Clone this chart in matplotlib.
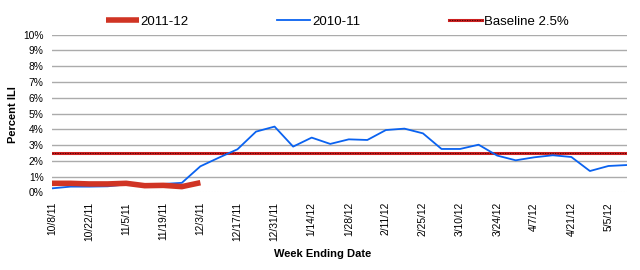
import matplotlib
matplotlib.use('Agg')
import matplotlib.pyplot as plt
from matplotlib.ticker import FuncFormatter

plt.rcParams['font.family'] = ['Liberation Sans', 'DejaVu Sans']

# week ending dates (every other one is labelled)
weeks = ['10/8/11', '10/15/11', '10/22/11', '10/29/11', '11/5/11', '11/12/11',
         '11/19/11', '11/26/11', '12/3/11', '12/10/11', '12/17/11', '12/24/11',
         '12/31/11', '1/7/12', '1/14/12', '1/21/12', '1/28/12', '2/4/12',
         '2/11/12', '2/18/12', '2/25/12', '3/3/12', '3/10/12', '3/17/12',
         '3/24/12', '3/31/12', '4/7/12', '4/14/12', '4/21/12', '4/28/12',
         '5/5/12', '5/12/12']

# percent ILI
season_2011_12 = [0.57, 0.57, 0.53, 0.53, 0.57, 0.42, 0.44, 0.36, 0.61]
season_2010_11 = [0.25, 0.36, 0.36, 0.38, 0.50, 0.50, 0.53, 0.60, 1.65, 2.20,
                  2.73, 3.85, 4.17, 2.90, 3.47, 3.07, 3.36, 3.32, 3.95, 4.04,
                  3.74, 2.75, 2.75, 3.02, 2.33, 2.03, 2.22, 2.35, 2.24, 1.35,
                  1.67, 1.73]
baseline = 2.5

fig = plt.figure(figsize=(6.4, 2.7), dpi=100)
ax = fig.add_axes([52 / 640, 1 - 192.3 / 270, 575 / 640, 157.6 / 270])

# gridlines
for v in range(1, 11):
    ax.axhline(v, color='#ababab', lw=1.0, zorder=1)
ax.axhline(0, color='#dddddd', lw=0.8, ls=':', zorder=1)

x_blue = list(range(len(season_2010_11)))
x_red = list(range(len(season_2011_12)))

base_red, = ax.plot([0, len(weeks) - 1], [baseline, baseline], color='#cc2020', lw=2.2, zorder=2)
base_dot, = ax.plot([0, len(weeks) - 1], [baseline, baseline], color='#3a0000', lw=0.6, ls=(0, (1.5, 1.5)), zorder=3)
blue_line, = ax.plot(x_blue, season_2010_11, color='#0a62f0', lw=1.3, zorder=4)
red_line, = ax.plot(x_red, season_2011_12, color='#d03424', lw=4.0, zorder=5,
                    solid_capstyle='butt', solid_joinstyle='round')

ax.set_xlim(0, len(weeks) - 1)
ax.set_ylim(0, 10)
ax.set_yticks(range(0, 11))
ax.yaxis.set_major_formatter(FuncFormatter(lambda v, p: f'{int(v)}%'))
ax.set_xticks(x_blue[::2])
ax.set_xticklabels(weeks[::2], rotation=90, fontsize=7.4)
ax.tick_params(axis='x', length=0, pad=7)
ax.tick_params(axis='y', length=0, pad=6, labelsize=7.4)
for s in ax.spines.values():
    s.set_visible(False)

fig.text(13 / 640, 1 - 115 / 270, 'Percent ILI', rotation=90, ha='center', va='center',
         fontsize=8, fontweight='bold')
fig.text(323 / 640, 1 - 254 / 270, 'Week Ending Date', ha='center', va='center',
         fontsize=8, fontweight='bold')

fig.legend([red_line, blue_line, (base_red, base_dot)],
           ['2011-12', '2010-11', 'Baseline 2.5%'],
           loc='center', bbox_to_anchor=(337 / 640, 1 - 22 / 270), ncol=3,
           frameon=False, fontsize=9.5, handlelength=2.5, handletextpad=0.15,
           columnspacing=6.7, borderpad=0)

fig.savefig('out.png', dpi=100)
